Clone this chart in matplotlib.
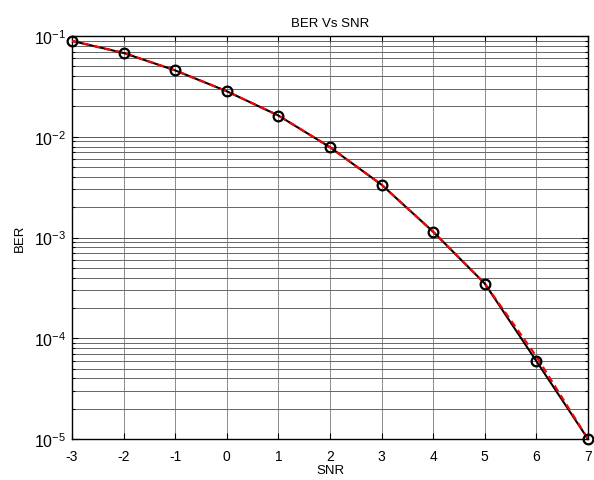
import matplotlib
matplotlib.use('Agg')
import matplotlib.pyplot as plt
from matplotlib.ticker import LogLocator, NullFormatter

plt.rcParams['font.family'] = ['Liberation Sans', 'DejaVu Sans']
plt.rcParams['mathtext.fontset'] = 'custom'
plt.rcParams['mathtext.rm'] = 'Liberation Sans'
plt.rcParams['axes.unicode_minus'] = False

snr = [-3, -2, -1, 0, 1, 2, 3, 4, 5, 6, 7]
ber_sim = [0.0894, 0.0679, 0.0456, 0.0283, 0.01625, 0.00788, 0.00334,
           0.00114, 0.000349, 5.93e-5, 1.0e-5]
ber_theory = [0.0894, 0.0679, 0.0456, 0.0283, 0.01625, 0.00788, 0.00334,
              0.00114, 0.000349, 6.6e-5, 1.0e-5]

fig = plt.figure(figsize=(5.94, 4.81), dpi=100)
ax = fig.add_axes([0.1212, 0.0852, 0.8687, 0.8378])

ax.semilogy(snr, ber_sim, color='black', lw=1.5, zorder=3)
ax.semilogy(snr, ber_theory, color='red', lw=1.6, ls=(0, (3, 2)), zorder=4)
ax.semilogy(snr, ber_sim, ls='none', marker='o', ms=7, mfc='none',
            mec='black', mew=1.6, zorder=5, clip_on=False)

ax.set_xlim(-3, 7)
ax.set_ylim(1e-5, 1e-1)
ax.set_xticks(snr)
ax.yaxis.set_major_locator(LogLocator(base=10, numticks=10))
ax.yaxis.set_minor_locator(LogLocator(base=10, subs=range(2, 10), numticks=20))
ax.yaxis.set_minor_formatter(NullFormatter())

ax.xaxis.grid(True, which='major', color='0.55', lw=0.7, ls='-')
ax.yaxis.grid(True, which='major', color='0.35', lw=0.7, ls='-')
ax.yaxis.grid(True, which='minor', color='0.4', lw=0.7, ls='-')
ax.set_axisbelow(True)

ax.tick_params(which='both', direction='in', top=True, right=True, width=0.8)
ax.tick_params(which='major', length=4)
ax.tick_params(which='minor', length=2.5)
ax.tick_params(axis='x', pad=7, labelsize=10)
ax.tick_params(axis='y', pad=4, labelsize=11.5)
for s in ax.spines.values():
    s.set_linewidth(1.0)

ax.set_title('BER Vs SNR', fontsize=9.5, pad=7)
ax.set_xlabel('SNR', fontsize=9.5, labelpad=1)
ax.set_ylabel('BER', fontsize=9.5, labelpad=6)

fig.savefig('out.png', dpi=100)
